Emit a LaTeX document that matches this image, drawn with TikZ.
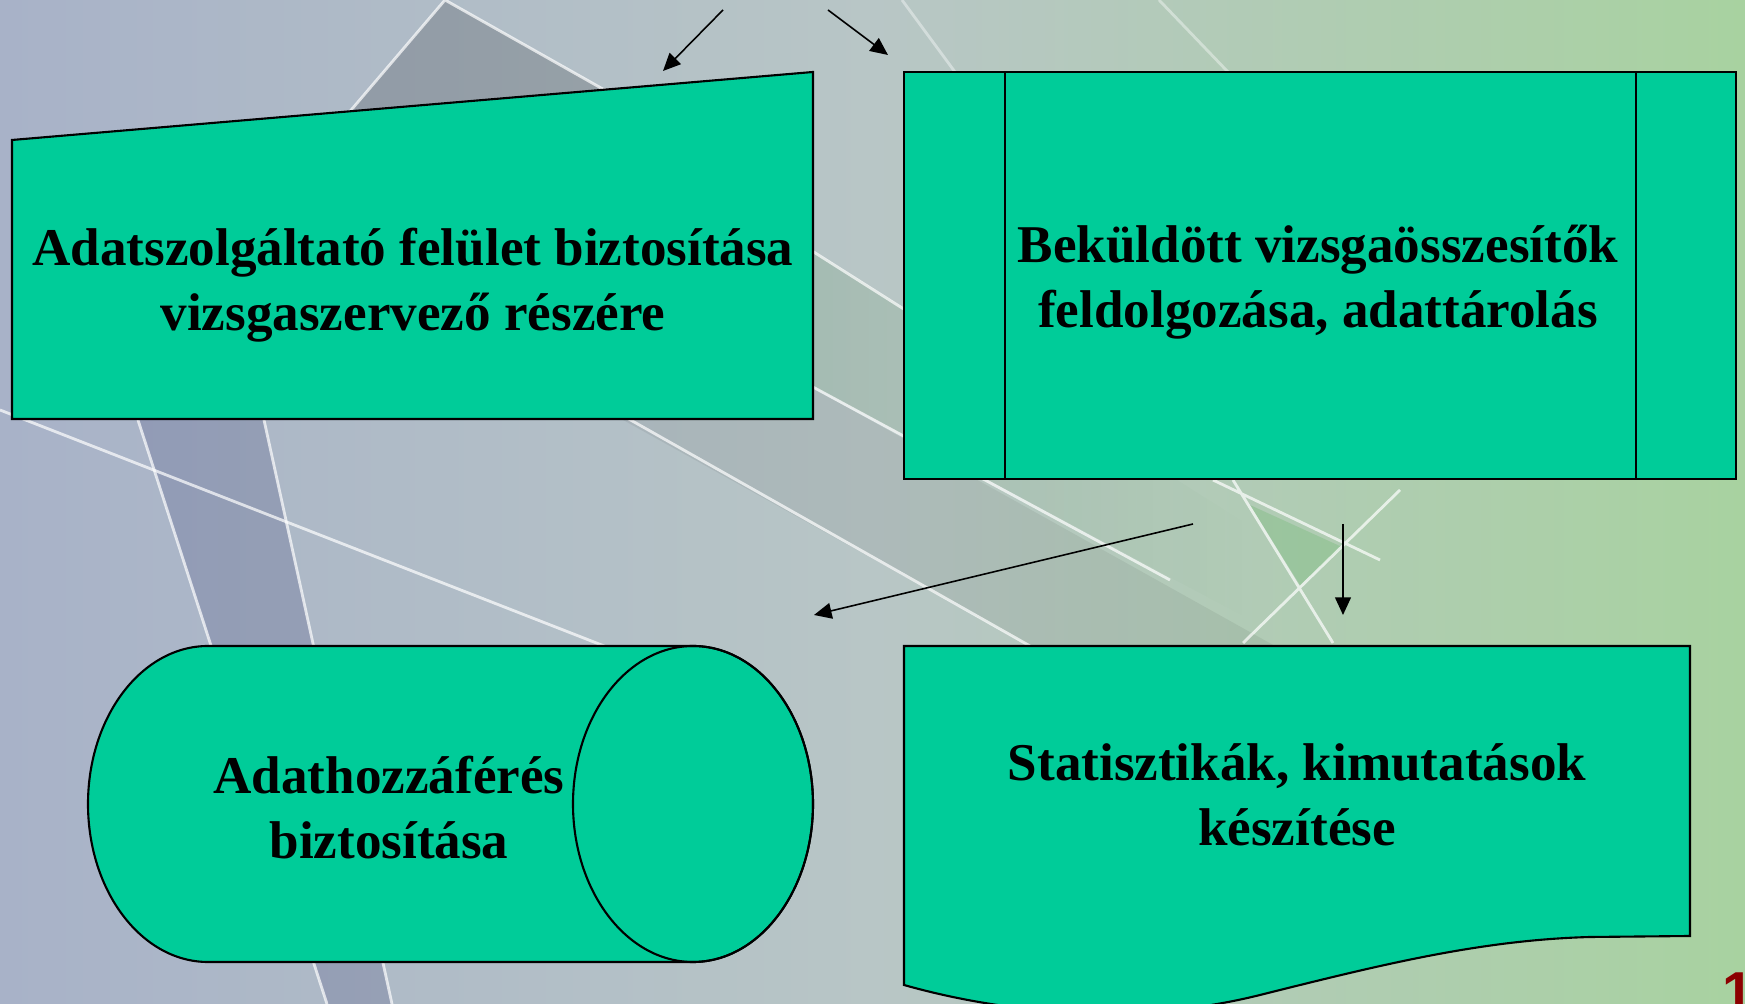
\documentclass[tikz,border=0pt]{standalone}
\usepackage{fontspec}
\setmainfont{Liberation Serif}
\newfontfamily\pagenumfont{Liberation Sans}
\usepackage{tikz}
\usetikzlibrary{positioning}
\usetikzlibrary{arrows.meta,fadings}
\definecolor{boxgreen}{RGB}{0,204,153}
\definecolor{bgleft}{RGB}{168,178,200}
\definecolor{bgmid}{RGB}{184,198,198}
\definecolor{bgright}{RGB}{168,210,160}
\definecolor{pagered}{RGB}{140,0,0}
\tikzstyle{arrow} = [line width=0.45pt,-{Triangle[length=5pt,width=4.5pt]}]
\tikzstyle{box} = [draw=black,semithick,fill=boxgreen]
\tikzstyle{boxtext} = [font=\bfseries\fontsize{15.1}{18.5}\selectfont,align=center]
\tikzstyle{bgline} = [white,line width=0.8pt,opacity=0.7]

\begin{document}
\begin{tikzpicture}[x=0.01cm,y=-0.01cm]
	\useasboundingbox (0,0) rectangle (1745,1004);

	%Background
	\shade[left color=bgleft,right color=bgright,middle color=bgmid] (0,0) rectangle (1745,1004);
	\fill[black,opacity=0.16] (445,0) -- (300,170) -- (640,110) -- cycle;
	\fill[blue!30!black,opacity=0.14] (138,420) -- (264,420) -- (392,1004) -- (327,1004) -- cycle;
	\fill[black,opacity=0.06] (560,247) -- (1300,660) -- (1030,646) -- (560,385) -- cycle;
	\fill[black!60!green,opacity=0.12,path fading=east] (700,180) -- (1250,526) -- (1250,620) -- (700,326) -- cycle;
	\fill[black!40!green,opacity=0.12] (1250,505) -- (1342,547) -- (1300,585) -- cycle;
	\draw[bgline] (445,0) -- (300,170) (445,0) -- (640,110);
	\draw[bgline] (138,420) -- (327,1004) (264,420) -- (392,1004);
	\draw[bgline] (0,410) -- (640,660);
	\draw[bgline] (700,180) -- (1000,370) (700,326) -- (1170,580);
	\draw[bgline] (620,414) -- (1030,646);
	\draw[bgline] (1213,480) -- (1380,560) (1233,480) -- (1333,643) (1243,643) -- (1400,490);
	\draw[bgline,opacity=0.4] (902,0) -- (955,72) (1159,0) -- (1228,72);

	%Nodes
	\path[box] (12,140) -- (813,72) -- (813,419) -- (12,419) -- cycle;
	\node[boxtext] (Input) at (413,285) {Adatszolgáltató felület biztosítása\\vizsgaszervező részére};

	\path[box] (904,72) rectangle (1736,479);
	\draw[semithick] (1005,72) -- (1005,479) (1636,72) -- (1636,479);
	\node[boxtext] (Process) at (1318,282) {Beküldött vizsgaösszesítők\\feldolgozása, adattárolás};

	\path[box] (693,646) -- (208,646) arc[start angle=270,end angle=90,x radius=120,y radius=158] -- (693,962) arc[start angle=90,end angle=-90,x radius=120,y radius=158] -- cycle;
	\draw[semithick] (693,804) ellipse[x radius=120,y radius=158];
	\node[boxtext] (Access) at (389,808) {Adathozzáférés\\biztosítása};

	\path[box] (904,646) -- (1690,646) -- (1690,936) -- (1590,937) .. controls (1480,940) and (1380,965) .. (1260,995) .. controls (1140,1025) and (1010,1015) .. (904,985) -- cycle;
	\node[boxtext] (Stats) at (1297,795) {Statisztikák, kimutatások\\készítése};

	\node[font=\pagenumfont\bfseries\fontsize{16}{16}\selectfont,text=pagered,anchor=north west,inner sep=0pt] (pagenum) at (1722,972) {1};

	%Lines
	\coordinate (inLeft) at (723,10);
	\coordinate (tipLeft) at (663,71);
	\coordinate (inRight) at (828,10);
	\coordinate (tipRight) at (888,55);
	\coordinate (outLeft) at (1193,524);
	\coordinate (toAccess) at (814,615);
	\coordinate (outDown) at (1343,524);
	\coordinate (toStats) at (1343,615);
	\draw[arrow] (inLeft) -- (tipLeft);
	\draw[arrow] (inRight) -- (tipRight);
	\draw[arrow] (outLeft) -- (toAccess);
	\draw[arrow] (outDown) -- (toStats);

\end{tikzpicture}
\end{document}
